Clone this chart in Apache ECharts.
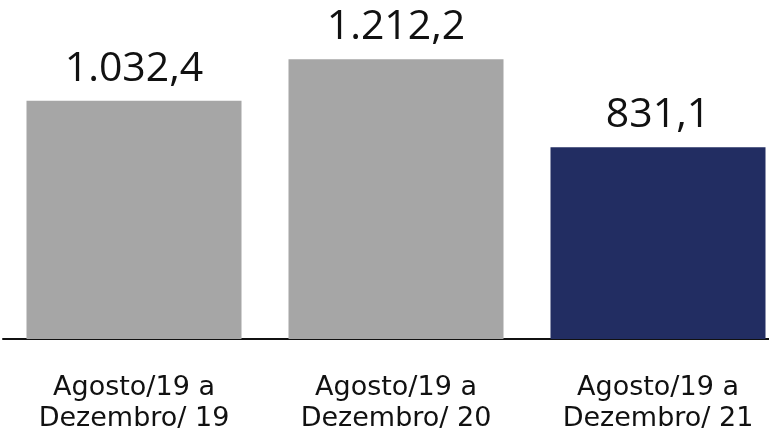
<!DOCTYPE html>
<html>
<head>
<meta charset="utf-8">
<script src="https://cdn.jsdelivr.net/npm/echarts@6/dist/echarts.min.js"></script>
<style>
  html, body { margin: 0; padding: 0; background: #fff; }
  #chart { width: 769px; height: 441px; }
</style>
</head>
<body>
<div id="chart"></div>
<script>
const categories = ['Agosto/19 a\nDezembro/ 19', 'Agosto/19 a\nDezembro/ 20', 'Agosto/19 a\nDezembro/ 21']
const values = [1032.4, 1212.2, 831.1]
const barColors = ['#a6a6a6', '#a6a6a6', '#222d62']

// formato brasileiro: 1.032,4
function fmt(v) {
    const parts = v.toFixed(1).split('.')
    const inteiro = parts[0].replace(/\B(?=(\d{3})+(?!\d))/g, '.')
    return inteiro + ',' + parts[1]
}

const chart = echarts.init(document.getElementById('chart'))
chart.setOption({
    animation: false,
    grid: { left: 3, right: -20, top: 39, bottom: 102, outerBoundsMode: 'none', containLabel: false },
    xAxis: {
        type: 'category',
        data: categories,
        axisLine: { lineStyle: { color: '#111', width: 2 } },
        axisTick: { show: false },
        axisLabel: {
            color: '#111',
            fontFamily: 'DejaVu Sans',
            fontSize: 27,
            lineHeight: 31,
            margin: 33
        }
    },
    yAxis: {
        type: 'value',
        min: 0,
        max: 1300,
        show: false,
        splitLine: { show: false }
    },
    series: [{
        type: 'bar',
        barWidth: 215,
        data: values.map((v, i) => ({ value: v, itemStyle: { color: barColors[i] } })),
        label: {
            show: true,
            position: 'top',
            distance: 11,
            color: '#111',
            fontFamily: 'Open Sans',
            fontSize: 41,
            formatter: p => fmt(p.value)
        }
    }]
})
</script>
</body>
</html>
